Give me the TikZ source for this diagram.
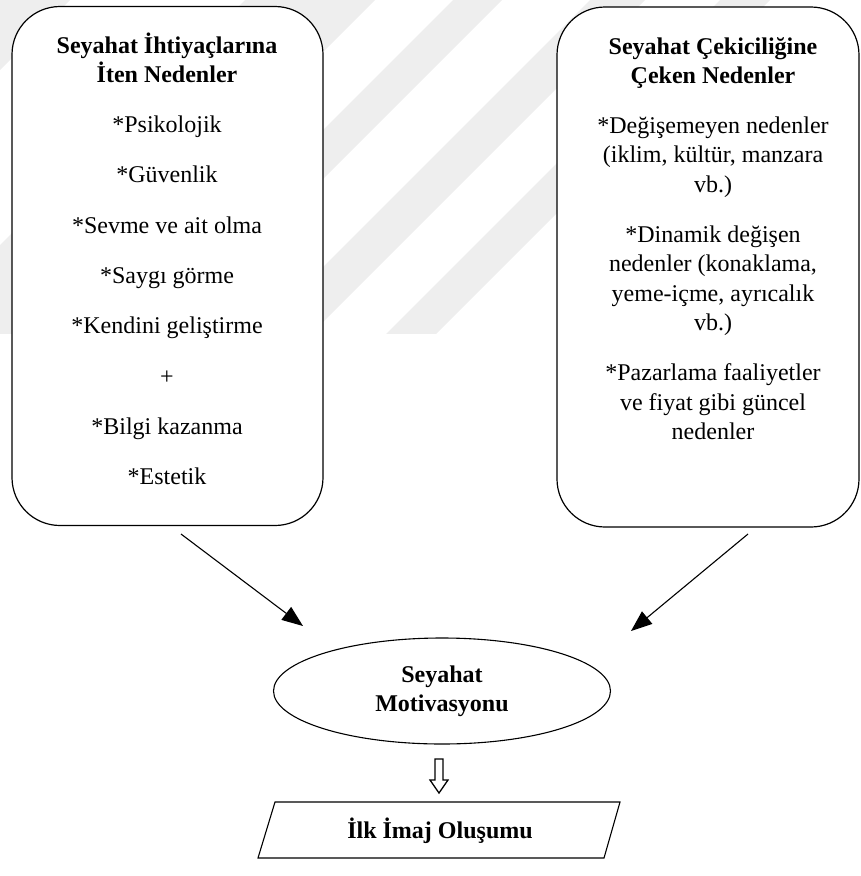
\documentclass[tikz,border=0pt]{standalone}
\usepackage{fontspec}
\setmainfont{Liberation Serif}
\usetikzlibrary{shapes.geometric,arrows.meta,calc}
\definecolor{wm}{RGB}{238,238,238}
\begin{document}
\begin{tikzpicture}[x=1pt,y=-1pt,
  box/.style={draw, line width=1.2pt, rounded corners=48pt, fill=white},
  txt/.style={anchor=base, inner sep=0pt, font=\fontsize{24}{29.5}\selectfont},
  ttl/.style={anchor=base, inner sep=0pt, font=\fontsize{24}{29.5}\selectfont\bfseries},
  conn/.style={line width=1.1pt, -{Triangle[length=21pt,width=16pt]}},
]
\useasboundingbox (0,0) rectangle (861,876);
% faint watermark stripes
\begin{scope}
  \clip (0,0) rectangle (861,333);
  \foreach \a/\b in {-60/70, 245/375, 453/502, 590/645, 720/770} {
    \fill[wm] (\a,0) -- (\b,0) -- (\b-400,400) -- (\a-400,400) -- cycle;
  }
\end{scope}
% boxes
\node[box, minimum width=311pt, minimum height=519pt] (lbox) at (167.5,266) {};
\node[box, minimum width=302pt, minimum height=520pt] (rbox) at (708,267) {};
% left box text
\node[ttl] (l1) at (167,53) {Seyahat İhtiyaçlarına};
\node[ttl] (l2) at (167,82) {İten Nedenler};
\node[txt] (l3) at (167,132) {*Psikolojik};
\node[txt] (l4) at (167,182.5) {*Güvenlik};
\node[txt] (l5) at (167,233) {*Sevme ve ait olma};
\node[txt] (l6) at (167,283) {*Saygı görme};
\node[txt] (l7) at (167,333.5) {*Kendini geliştirme};
\node[txt] (l8) at (167,384) {+};
\node[txt] (l9) at (167,434) {*Bilgi kazanma};
\node[txt] (l10) at (167,484) {*Estetik};
% right box text
\node[ttl] (r1) at (713,54) {Seyahat Çekiciliğine};
\node[ttl] (r2) at (713,83) {Çeken Nedenler};
\node[txt] (r3) at (713,133) {*Değişemeyen nedenler};
\node[txt] (r4) at (713,162.5) {(iklim, kültür, manzara};
\node[txt] (r5) at (713,192) {vb.)};
\node[txt] (r6) at (713,242) {*Dinamik değişen};
\node[txt] (r7) at (713,271.5) {nedenler (konaklama,};
\node[txt] (r8) at (713,301) {yeme-içme, ayrıcalık};
\node[txt] (r9) at (713,330.5) {vb.)};
\node[txt] (r10) at (713,380.5) {*Pazarlama faaliyetler};
\node[txt] (r11) at (713,410) {ve fiyat gibi güncel};
\node[txt] (r12) at (713,439.5) {nedenler};
% ellipse
\node[draw, ellipse, line width=1.1pt, minimum width=337pt, minimum height=106pt,
      align=center, font=\fontsize{24}{29}\selectfont\bfseries] (mot) at (442,691) {Seyahat\\Motivasyonu};
% diagonal arrows
\coordinate (la) at (181,534);
\coordinate (lb) at (303,626);
\coordinate (ra) at (748,534);
\coordinate (rb) at (631,631);
\draw[conn] (la) -- (lb);
\draw[conn] (ra) -- (rb);
% hollow down arrow
\coordinate (dtop) at (439,759);
\coordinate (dtip) at (439,793);
\draw[line width=1.3pt, line join=miter]
  ($(dtop)+(-4,0)$) -- ($(dtop)+(4,0)$) -- ($(dtip)+(4,-13)$) -- ($(dtip)+(9,-13)$)
  -- (dtip) -- ($(dtip)+(-9,-13)$) -- ($(dtip)+(-4,-13)$) -- cycle;
% parallelogram
\coordinate (ptl) at (275,802);
\coordinate (ptr) at (620,802);
\coordinate (pbr) at (604,858);
\coordinate (pbl) at (258,858);
\draw[line width=1.1pt] (ptl) -- (ptr) -- (pbr) -- (pbl) -- cycle;
\node[ttl] (img) at (440,838) {İlk İmaj Oluşumu};
\end{tikzpicture}
\end{document}
